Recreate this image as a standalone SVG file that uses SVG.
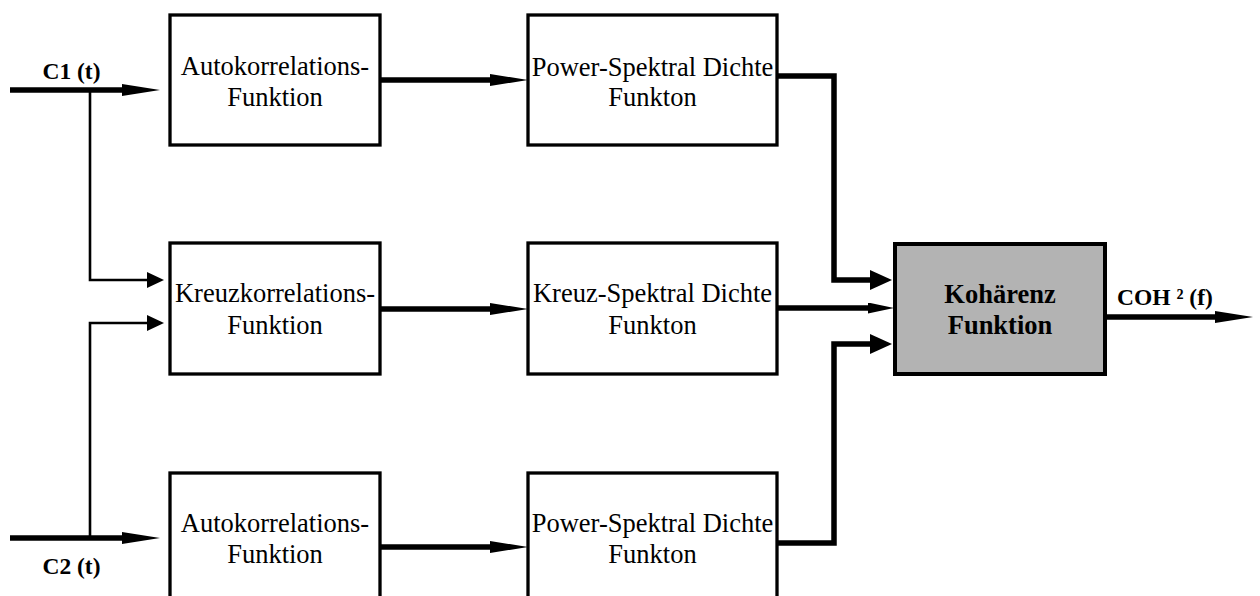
<svg xmlns="http://www.w3.org/2000/svg" width="1260" height="596" viewBox="0 0 1260 596">
  <style>
    .box { fill: #ffffff; stroke: #000000; stroke-width: 3.3; }
    .coh { fill: #b3b3b3; stroke: #000000; stroke-width: 4; }
    text { font-family: 'Liberation Serif', 'DejaVu Serif', serif; fill: #000000; }
    .lbl { font-size: 26.5px; text-anchor: middle; }
    .bold { font-weight: bold; }
    .sig { font-size: 23.5px; font-weight: bold; }
    .thick { fill: none; stroke: #000000; stroke-width: 5.5; }
    .thin { fill: none; stroke: #000000; stroke-width: 2.6; }
  </style>
  <defs>
    <!-- long narrow head for thick signal lines -->
    <marker id="headLong" markerUnits="userSpaceOnUse" viewBox="0 0 38 12" refX="0" refY="6" markerWidth="38" markerHeight="12" orient="auto">
      <path d="M0,0 L38,6 L0,12 Z" fill="#000000"/>
    </marker>
    <!-- short narrow head -->
    <marker id="headMid" markerUnits="userSpaceOnUse" viewBox="0 0 26 11" refX="0" refY="5.5" markerWidth="26" markerHeight="11" orient="auto">
      <path d="M0,0 L26,5.5 L0,11 Z" fill="#000000"/>
    </marker>
    <!-- broad head for the side inputs of the coherence block -->
    <marker id="headWide" markerUnits="userSpaceOnUse" viewBox="0 0 22 20" refX="0" refY="10" markerWidth="22" markerHeight="20" orient="auto">
      <path d="M0,0 L22,10 L0,20 Z" fill="#000000"/>
    </marker>
    <!-- head for the thin branch lines -->
    <marker id="headThin" markerUnits="userSpaceOnUse" viewBox="0 0 17 16" refX="0" refY="8" markerWidth="17" markerHeight="16" orient="auto">
      <path d="M0,0 L17,8 L0,16 Z" fill="#000000"/>
    </marker>
  </defs>

  <g id="connectors">
    <path class="thick" d="M10,90 H122" marker-end="url(#headLong)"/>
    <path class="thick" d="M10,538 H122" marker-end="url(#headLong)"/>
    <path class="thin" d="M90,91 V280 H147" marker-end="url(#headThin)"/>
    <path class="thin" d="M90,537 V323 H147" marker-end="url(#headThin)"/>
    <path class="thick" d="M380,80 H490" marker-end="url(#headLong)"/>
    <path class="thick" d="M380,309 H490" marker-end="url(#headLong)"/>
    <path class="thick" d="M380,547 H490" marker-end="url(#headLong)"/>
    <path class="thick" d="M777,76 H834 V280 H870" stroke-width="4.5" marker-end="url(#headWide)"/>
    <path class="thick" d="M777,308 H868" marker-end="url(#headMid)"/>
    <path class="thick" d="M777,543 H834 V344 H870" stroke-width="4.5" marker-end="url(#headWide)"/>
    <path class="thick" d="M1105,317 H1215" marker-end="url(#headLong)"/>
  </g>

  <g id="in-c1">
    <text class="sig" x="71.5" y="79" text-anchor="middle">C1 (t)</text>
  </g>
  <g id="in-c2">
    <text class="sig" x="71.5" y="574" text-anchor="middle">C2 (t)</text>
  </g>

  <g id="acf1">
    <rect class="box" x="170" y="15" width="210" height="130"/>
    <text class="lbl" x="275" y="75">Autokorrelations-</text>
    <text class="lbl" x="275" y="106">Funktion</text>
  </g>
  <g id="ccf">
    <rect class="box" x="170" y="243" width="210" height="131"/>
    <text class="lbl" x="275" y="302">Kreuzkorrelations-</text>
    <text class="lbl" x="275" y="334">Funktion</text>
  </g>
  <g id="acf2">
    <rect class="box" x="170" y="473" width="210" height="131"/>
    <text class="lbl" x="275" y="532">Autokorrelations-</text>
    <text class="lbl" x="275" y="563">Funktion</text>
  </g>

  <g id="psd1">
    <rect class="box" x="528" y="15" width="249" height="130"/>
    <text class="lbl" x="652.5" y="76">Power-Spektral Dichte</text>
    <text class="lbl" x="652.5" y="106">Funkton</text>
  </g>
  <g id="csd">
    <rect class="box" x="528" y="243" width="249" height="131"/>
    <text class="lbl" x="652.5" y="302">Kreuz-Spektral Dichte</text>
    <text class="lbl" x="652.5" y="334">Funkton</text>
  </g>
  <g id="psd2">
    <rect class="box" x="528" y="473" width="249" height="131"/>
    <text class="lbl" x="652.5" y="532">Power-Spektral Dichte</text>
    <text class="lbl" x="652.5" y="563">Funkton</text>
  </g>

  <g id="coherence">
    <rect class="coh" x="895" y="244" width="210" height="130"/>
    <text class="lbl bold" x="1000" y="303">Kohärenz</text>
    <text class="lbl bold" x="1000" y="334">Funktion</text>
  </g>
  <g id="out-coh">
    <text class="sig" x="1117" y="305">COH ² (f)</text>
  </g>
</svg>
